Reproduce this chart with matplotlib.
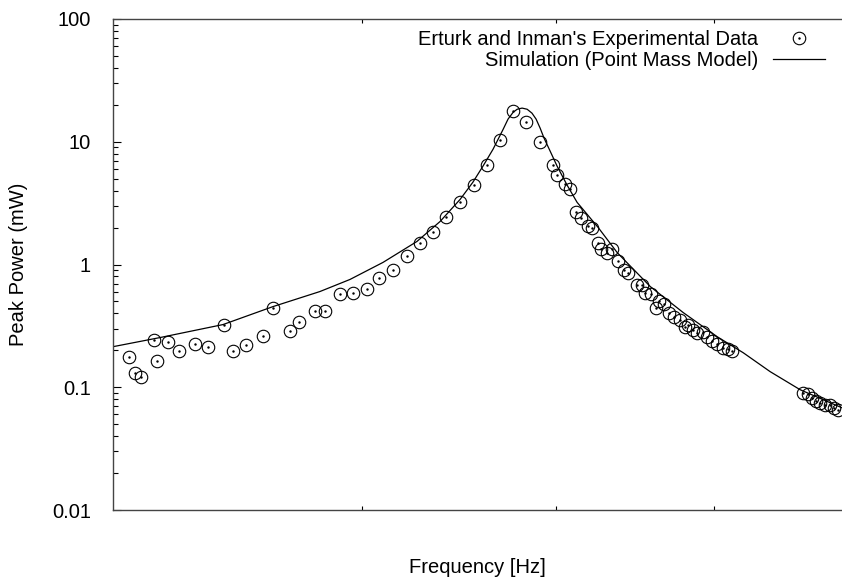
import numpy as np
import matplotlib
matplotlib.use('Agg')
from matplotlib import pyplot as plt
from matplotlib.ticker import FixedLocator, NullLocator, FuncFormatter

plt.rcParams['font.family'] = ['Liberation Sans', 'DejaVu Sans']

# experimental points (Erturk and Inman)
exp_freq = [306.0, 308.1, 310.3, 314.9, 316.0, 320.0, 324.1, 330.1, 335.1, 341.3,
            344.8, 350.0, 356.9, 361.1, 368.2, 372.0, 379.0, 383.3, 390.0, 395.9,
            402.3, 407.9, 414.5, 421.2, 427.6, 434.1, 440.6, 447.8, 455.0, 461.9,
            468.9, 476.0, 483.1, 491.0, 498.4, 500.7, 505.3, 508.2, 511.8, 514.7,
            518.9, 521.3, 524.9, 526.7, 530.4, 533.4, 537.1, 540.8, 543.3, 549.0,
            552.2, 554.1, 557.9, 561.1, 563.1, 566.2, 569.5, 572.8, 576.8, 580.1,
            582.1, 585.5, 588.2, 592.2, 595.0, 598.4, 601.9, 606.1, 609.5, 612.4,
            664.2, 668.1, 671.2, 674.3, 677.4, 681.4, 685.3, 688.4, 691.6]
exp_power = [0.177, 0.131, 0.122, 0.244, 0.165, 0.235, 0.199, 0.226, 0.214, 0.324,
             0.199, 0.222, 0.263, 0.446, 0.289, 0.343, 0.421, 0.421, 0.580, 0.591,
             0.637, 0.783, 0.910, 1.162, 1.483, 1.825, 2.419, 3.21, 4.41, 6.43,
             10.3, 17.7, 14.4, 9.91, 6.43, 5.33, 4.50, 4.10, 2.66, 2.37,
             2.04, 1.97, 1.483, 1.35, 1.23, 1.33, 1.06, 0.910, 0.845, 0.687,
             0.687, 0.591, 0.580, 0.446, 0.508, 0.481, 0.406, 0.376, 0.356, 0.312,
             0.324, 0.295, 0.279, 0.284, 0.258, 0.240, 0.226, 0.210, 0.206, 0.199,
             0.0902, 0.0885, 0.0821, 0.0776, 0.0747, 0.0719, 0.0719, 0.0681, 0.0655]

# simulation curve (point mass model)
sim_freq = [300.4, 317.1, 340.9, 361.1, 381.1, 394.5, 409.8, 426.1, 437.6, 447.8,
            454.4, 459.7, 465.1, 470.5, 473.2, 476.0, 478.2, 480.9, 483.7, 486.4,
            488.7, 491.0, 493.2, 496.7, 500.7, 506.5, 512.3, 524.9, 536.5, 557.3,
            578.8, 601.9, 620.2, 639.7, 662.2, 694.8]
sim_power = [0.214, 0.254, 0.324, 0.454, 0.602, 0.755, 1.04, 1.54, 2.24, 3.39,
             4.67, 6.31, 8.69, 12.6, 15.3, 17.4, 18.4, 18.8, 18.4, 17.1,
             15.3, 12.9, 10.7, 8.37, 6.31, 4.42, 3.21, 2.0, 1.25, 0.661,
             0.406, 0.258, 0.191, 0.134, 0.0954, 0.068]

fs = 14.5
fig = plt.figure(figsize=(8.42, 5.78), dpi=100)
ax = fig.add_axes([113/842, 68/578, 729/842, 491/578])

h1, = ax.plot(exp_freq, exp_power, 'o', mfc='none', mec='black', ms=9, mew=0.8)
h2, = ax.plot(exp_freq, exp_power, '.', color='black', ms=1.5)
h3, = ax.plot(sim_freq, sim_power, '-', color='black', lw=0.9)

ax.set_xscale('log')
ax.set_yscale('log')
ax.set_xlim(300.4, 694.8)
ax.set_ylim(0.01, 100)

ax.xaxis.set_major_locator(FixedLocator([400, 500, 600]))
ax.xaxis.set_minor_locator(NullLocator())
ax.xaxis.set_major_formatter(FuncFormatter(lambda v, p: ''))
ax.yaxis.set_major_formatter(FuncFormatter(lambda v, p: '%g' % v))
ax.tick_params(axis='x', which='both', direction='in', top=True, bottom=True, length=3, width=0.8)
ax.tick_params(axis='y', which='major', direction='in', left=True, right=False, length=6, width=0.8,
               labelsize=fs, pad=16)
ax.tick_params(axis='y', which='minor', direction='in', left=True, right=False, length=3.5, width=0.8)

for s in ['left', 'top', 'bottom']:
    ax.spines[s].set_color('#444444')
    ax.spines[s].set_linewidth(1.0)
ax.spines['right'].set_visible(False)

ax.set_xlabel('Frequency [Hz]', fontsize=fs)
ax.xaxis.set_label_coords(0.5, -0.098)
ax.set_ylabel('Peak Power (mW)', fontsize=fs)
ax.yaxis.set_label_coords(-0.117, 0.5)

ax.legend([(h1, h2), h3], ["Erturk and Inman's Experimental Data", 'Simulation (Point Mass Model)'],
          loc='upper right', bbox_to_anchor=(825/842, 548/578), bbox_transform=fig.transFigure,
          frameon=False, markerfirst=False, numpoints=1, fontsize=fs, handlelength=2.6,
          handletextpad=0.7, labelspacing=0.12, borderpad=0, borderaxespad=0)

fig.savefig('out.png', dpi=100)
